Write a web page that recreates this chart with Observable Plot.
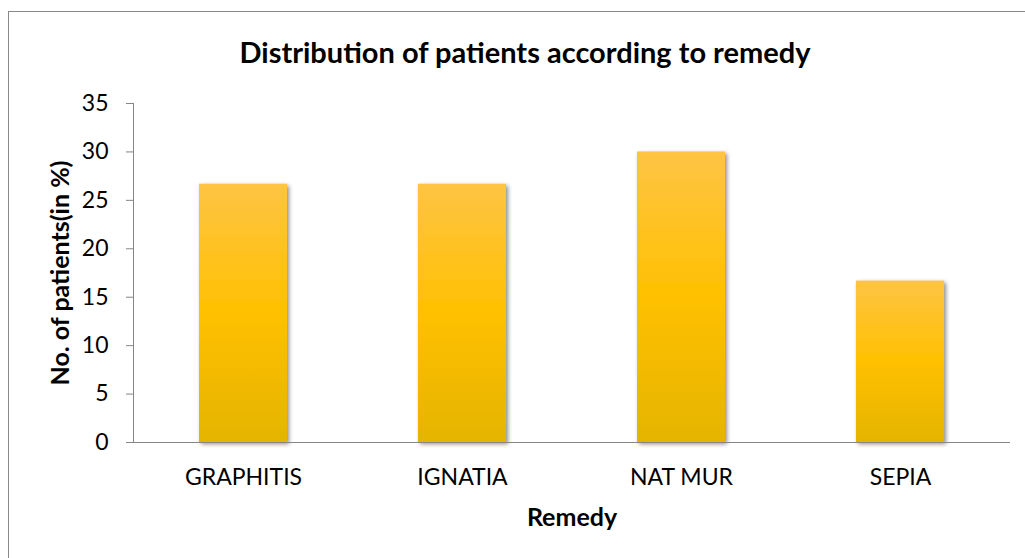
<!DOCTYPE html>
<html>
<head>
<meta charset="utf-8">
<script src="https://cdn.jsdelivr.net/npm/d3@7"></script>
<script src="https://cdn.jsdelivr.net/npm/@observablehq/plot@0.6"></script>
<style>
  html, body { margin: 0; padding: 0; background: #fff; }
  #wrap { position: relative; width: 1025px; height: 558px; overflow: hidden; font-family: Lato, "Noto Sans", sans-serif; }
  #frame { position: absolute; left: 8px; top: 11px; width: 2000px; height: 2000px; border-top: 1px solid #898989; border-left: 1px solid #898989; pointer-events: none; }
  svg { position: absolute; left: 0; top: 0; }
</style>
</head>
<body>
<div id="wrap"><div id="frame"></div></div>
<script>
const categories = ["GRAPHITIS", "IGNATIA", "NAT MUR", "SEPIA"];
const values = [26.67, 26.67, 30, 16.67];
const yTicks = [0, 5, 10, 15, 20, 25, 30, 35];
const title = "Distribution of patients according to remedy";
const xTitle = "Remedy";
const yTitle = "No. of patients(in %)";

const data = categories.map((c, i) => ({remedy: c, value: values[i]}));

const defsMark = () => {
  const defs = d3.create("svg:defs");
  const g = defs.append("linearGradient").attr("id", "barGrad").attr("x1", 0).attr("y1", 0).attr("x2", 0).attr("y2", 1);
  g.append("stop").attr("offset", "0%").attr("stop-color", "#FEC444");
  g.append("stop").attr("offset", "50%").attr("stop-color", "#FFC000");
  g.append("stop").attr("offset", "100%").attr("stop-color", "#E5B400");
  const f = defs.append("filter").attr("id", "barShadow").attr("x", "-20%").attr("y", "-10%").attr("width", "140%").attr("height", "120%");
  f.append("feDropShadow").attr("dx", 2).attr("dy", 2).attr("stdDeviation", 2).attr("flood-color", "#000").attr("flood-opacity", 0.45);
  return defs.node();
};

const yAxisLine = (index, scales, values, dimensions) => {
  const x = dimensions.marginLeft;
  const l = d3.create("svg:line")
    .attr("x1", x + 0.5).attr("x2", x + 0.5)
    .attr("y1", scales.y(35)).attr("y2", scales.y(0))
    .attr("stroke", "#868686").attr("stroke-width", 1);
  return l.node();
};

const chart = Plot.plot({
  width: 1025,
  height: 558,
  marginTop: 103,
  marginBottom: 116,
  marginLeft: 133,
  marginRight: 15,
  style: {fontFamily: "Lato, 'Noto Sans', sans-serif", background: "transparent", color: "#000"},
  x: {domain: categories, paddingInner: 0.6, paddingOuter: 0.3, label: null},
  y: {domain: [0, 35], label: null},
  marks: [
    defsMark,
    Plot.barY(data, {x: "remedy", y: "value", fill: "url(#barGrad)"}),
    Plot.ruleY([0], {stroke: "#868686", strokeOpacity: 1, insetLeft: -7}),
    yAxisLine,
    Plot.axisY({ticks: yTicks, tickSize: 7, tickPadding: 18, stroke: "#868686", fontSize: 23, fill: "#000", label: null}),
    Plot.axisX({tickSize: 0, tickPadding: 26, fontSize: 23, fill: "#000", label: null}),
    Plot.text([title], {frameAnchor: "top", dx: -47, lineAnchor: "bottom", dy: -41, fontSize: 29, fontWeight: "bold", fill: "#000"}),
    Plot.text([xTitle], {frameAnchor: "bottom", dy: 83, fontSize: 25, fontWeight: "bold", fill: "#000"}),
    Plot.text([yTitle], {frameAnchor: "left", dx: -73, rotate: -90, textAnchor: "middle", fontSize: 25, fontWeight: "bold", fill: "#000"})
  ]
});
d3.select(chart).selectAll("g[aria-label='bar'] rect").attr("filter", "url(#barShadow)");
document.getElementById("wrap").appendChild(chart);
</script>
</body>
</html>
